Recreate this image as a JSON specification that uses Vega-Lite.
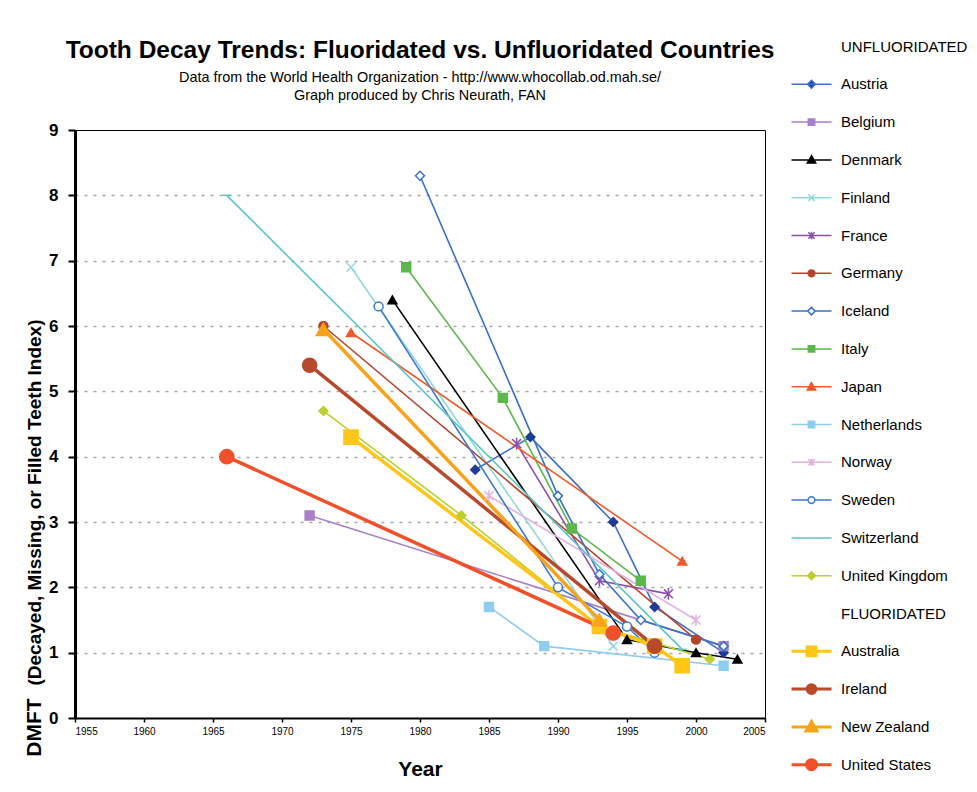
{
  "$schema": "https://vega.github.io/schema/vega-lite/v6.json",
  "width": 690,
  "height": 588,
  "autosize": "none",
  "padding": {"left": 75, "top": 130, "right": 212, "bottom": 74},
  "background": "white",
  "config": {
    "font": "Liberation Sans",
    "view": {"stroke": "black", "strokeWidth": 1}
  },
  "title": {
    "text": "Tooth Decay Trends:  Fluoridated vs. Unfluoridated Countries",
    "subtitle": ["Data from the World Health Organization - http://www.whocollab.od.mah.se/", "Graph produced by Chris Neurath, FAN"],
    "font": "Liberation Sans",
    "fontSize": 24.5,
    "fontWeight": "bold",
    "color": "black",
    "subtitleFont": "Liberation Sans",
    "subtitleFontSize": 14.4,
    "subtitleColor": "black",
    "subtitlePadding": 7,
    "subtitleLineHeight": 18,
    "anchor": "middle",
    "frame": "group",
    "offset": 0,
    "dy": 64
  },
  "data": {
    "values": [
      {"country": "Austria", "group": "Unfluoridated", "year": 1984, "dmft": 3.8},
      {"country": "Austria", "group": "Unfluoridated", "year": 1988, "dmft": 4.3},
      {"country": "Austria", "group": "Unfluoridated", "year": 1994, "dmft": 3.0},
      {"country": "Austria", "group": "Unfluoridated", "year": 1997, "dmft": 1.7},
      {"country": "Austria", "group": "Unfluoridated", "year": 2002, "dmft": 1.0},
      {"country": "Belgium", "group": "Unfluoridated", "year": 1972, "dmft": 3.1},
      {"country": "Belgium", "group": "Unfluoridated", "year": 2002, "dmft": 1.1},
      {"country": "Denmark", "group": "Unfluoridated", "year": 1978, "dmft": 6.4},
      {"country": "Denmark", "group": "Unfluoridated", "year": 1995, "dmft": 1.2},
      {"country": "Denmark", "group": "Unfluoridated", "year": 2000, "dmft": 1.0},
      {"country": "Denmark", "group": "Unfluoridated", "year": 2003, "dmft": 0.9},
      {"country": "Finland", "group": "Unfluoridated", "year": 1975, "dmft": 6.9},
      {"country": "Finland", "group": "Unfluoridated", "year": 1994, "dmft": 1.1},
      {"country": "France", "group": "Unfluoridated", "year": 1987, "dmft": 4.2},
      {"country": "France", "group": "Unfluoridated", "year": 1993, "dmft": 2.1},
      {"country": "France", "group": "Unfluoridated", "year": 1998, "dmft": 1.9},
      {"country": "Germany", "group": "Unfluoridated", "year": 1973, "dmft": 6.0},
      {"country": "Germany", "group": "Unfluoridated", "year": 2000, "dmft": 1.2},
      {"country": "Iceland", "group": "Unfluoridated", "year": 1980, "dmft": 8.3},
      {"country": "Iceland", "group": "Unfluoridated", "year": 1990, "dmft": 3.4},
      {"country": "Iceland", "group": "Unfluoridated", "year": 1993, "dmft": 2.2},
      {"country": "Iceland", "group": "Unfluoridated", "year": 1996, "dmft": 1.5},
      {"country": "Iceland", "group": "Unfluoridated", "year": 2002, "dmft": 1.1},
      {"country": "Italy", "group": "Unfluoridated", "year": 1979, "dmft": 6.9},
      {"country": "Italy", "group": "Unfluoridated", "year": 1986, "dmft": 4.9},
      {"country": "Italy", "group": "Unfluoridated", "year": 1991, "dmft": 2.9},
      {"country": "Italy", "group": "Unfluoridated", "year": 1996, "dmft": 2.1},
      {"country": "Japan", "group": "Unfluoridated", "year": 1975, "dmft": 5.9},
      {"country": "Japan", "group": "Unfluoridated", "year": 1999, "dmft": 2.4},
      {"country": "Netherlands", "group": "Unfluoridated", "year": 1985, "dmft": 1.7},
      {"country": "Netherlands", "group": "Unfluoridated", "year": 1989, "dmft": 1.1},
      {"country": "Netherlands", "group": "Unfluoridated", "year": 2002, "dmft": 0.8},
      {"country": "Norway", "group": "Unfluoridated", "year": 1985, "dmft": 3.4},
      {"country": "Norway", "group": "Unfluoridated", "year": 2000, "dmft": 1.5},
      {"country": "Sweden", "group": "Unfluoridated", "year": 1977, "dmft": 6.3},
      {"country": "Sweden", "group": "Unfluoridated", "year": 1990, "dmft": 2.0},
      {"country": "Sweden", "group": "Unfluoridated", "year": 1995, "dmft": 1.4},
      {"country": "Sweden", "group": "Unfluoridated", "year": 1997, "dmft": 1.0},
      {"country": "Switzerland", "group": "Unfluoridated", "year": 1966, "dmft": 8.0},
      {"country": "Switzerland", "group": "Unfluoridated", "year": 1999, "dmft": 1.05},
      {"country": "United Kingdom", "group": "Unfluoridated", "year": 1973, "dmft": 4.7},
      {"country": "United Kingdom", "group": "Unfluoridated", "year": 1983, "dmft": 3.1},
      {"country": "United Kingdom", "group": "Unfluoridated", "year": 1993, "dmft": 1.4},
      {"country": "United Kingdom", "group": "Unfluoridated", "year": 2001, "dmft": 0.9},
      {"country": "Australia", "group": "Fluoridated", "year": 1975, "dmft": 4.3},
      {"country": "Australia", "group": "Fluoridated", "year": 1993, "dmft": 1.4},
      {"country": "Australia", "group": "Fluoridated", "year": 1997, "dmft": 1.1},
      {"country": "Australia", "group": "Fluoridated", "year": 1999, "dmft": 0.8},
      {"country": "Ireland", "group": "Fluoridated", "year": 1972, "dmft": 5.4},
      {"country": "Ireland", "group": "Fluoridated", "year": 1997, "dmft": 1.1},
      {"country": "New Zealand", "group": "Fluoridated", "year": 1973, "dmft": 5.95},
      {"country": "New Zealand", "group": "Fluoridated", "year": 1993, "dmft": 1.5},
      {"country": "United States", "group": "Fluoridated", "year": 1966, "dmft": 4.0},
      {"country": "United States", "group": "Fluoridated", "year": 1994, "dmft": 1.3}
    ]
  },
  "encoding": {
    "x": {
      "field": "year", "type": "quantitative",
      "scale": {"domain": [1955, 2005], "nice": false, "zero": false},
      "axis": {
        "values": [1955, 1960, 1965, 1970, 1975, 1980, 1985, 1990, 1995, 2000, 2005],
        "format": "d", "title": "Year", "grid": false,
        "domainColor": "black", "domainWidth": 2,
        "tickColor": "black", "tickWidth": 1.5, "tickSize": 4,
        "labelFont": "Liberation Sans", "labelFontSize": 10, "labelColor": "black", "labelPadding": 4,
        "titleFont": "Liberation Sans", "titleFontSize": 21, "titleFontWeight": "bold", "titleColor": "black", "titlePadding": 22
      }
    }
  },
  "resolve": {"axis": {"y": "independent"}},
  "layer": [
    {
      "mark": {"type": "line"},
      "encoding": {
        "y": {
          "field": "dmft", "type": "quantitative",
          "scale": {"domain": [0, 9], "nice": false},
          "axis": {
            "orient": "left",
            "values": [0, 1, 2, 3, 4, 5, 6, 7, 8, 9],
            "title": "(Decayed, Missing, or Filled Teeth Index)",
            "grid": true,
            "gridColor": {"condition": {"test": "datum.value === 0 || datum.value === 9", "value": "transparent"}, "value": "#a8a8a8"},
            "gridDash": [3, 6], "gridWidth": 1.5,
            "domainColor": "black", "domainWidth": 3,
            "tickColor": "black", "tickWidth": 2, "tickSize": 7,
            "labelFont": "Liberation Sans", "labelFontSize": 17, "labelFontWeight": "bold", "labelColor": "black", "labelPadding": 10,
            "titleFont": "Liberation Sans", "titleFontSize": 19, "titleFontWeight": "bold", "titleColor": "black",
            "titleAngle": 270, "titleBaseline": "middle", "titleAlign": "center",
            "titleX": -41, "titleY": 372
          }
        },
        "color": {
          "field": "country", "type": "nominal",
          "scale": {
            "domain": ["UNFLUORIDATED", "Austria", "Belgium", "Denmark", "Finland", "France", "Germany", "Iceland", "Italy", "Japan", "Netherlands", "Norway", "Sweden", "Switzerland", "United Kingdom", "FLUORIDATED", "Australia", "Ireland", "New Zealand", "United States"],
            "range": ["transparent", "#3c6fc8", "#a880c8", "#000000", "#93d9dc", "#8e4fac", "#b5442d", "#3a72c6", "#5cb84a", "#f05a28", "#8fcdef", "#e4b2df", "#3a7ad0", "#5cc5c9", "#bccf2c", "transparent", "#ffc617", "#b84a2c", "#f8a31b", "#f1512a"]
          },
          "legend": {
            "orient": "none", "legendX": 729, "legendY": -91,
            "title": null, "padding": 0, "gridAlign": "all",
            "symbolSize": 1600, "rowPadding": 4.8, "labelOffset": 22,
            "labelFont": "Liberation Sans", "labelFontSize": 15, "labelColor": "black",
            "encode": {
              "symbols": {
                "update": {
                  "shape": {"signal": "'M0,-0.5M0,0.5' + ['M0,0','M-1,0H1M0,-0.2L0.2,0L0,0.2L-0.2,0Z','M-1,0H1M-0.16,-0.16H0.16V0.16H-0.16Z','M-1,0H1M0,-0.21L0.21,0.16L-0.21,0.16Z','M-1,0H1M-0.16,-0.16L0.16,0.16M0.16,-0.16L-0.16,0.16','M-1,0H1M-0.16,-0.16L0.16,0.16M0.16,-0.16L-0.16,0.16M0,-0.19V0.19','M-1,0H1M0.17,0A0.17,0.17 0 1,1 -0.17,0A0.17,0.17 0 1,1 0.17,0Z','M-1,0H-0.19M0.19,0H1M0,-0.19L0.19,0L0,0.19L-0.19,0Z','M-1,0H1M-0.16,-0.16H0.16V0.16H-0.16Z','M-1,0H1M0,-0.21L0.21,0.16L-0.21,0.16Z','M-1,0H1M-0.16,-0.16H0.16V0.16H-0.16Z','M-1,0H1M-0.16,-0.16L0.16,0.16M0.16,-0.16L-0.16,0.16M0,-0.19V0.19','M-1,0H-0.17M0.17,0H1M0.17,0A0.17,0.17 0 1,1 -0.17,0A0.17,0.17 0 1,1 0.17,0Z','M-1,0H1M-0.16,0H0.16','M-1,0H1M0,-0.2L0.2,0L0,0.2L-0.2,0Z','M0,0','M-1,0H1M-0.22,-0.22H0.22V0.22H-0.22Z','M-1,0H1M0.22,0A0.22,0.22 0 1,1 -0.22,0A0.22,0.22 0 1,1 0.22,0Z','M-1,0H1M0,-0.27L0.27,0.2L-0.27,0.2Z','M-1,0H1M0.25,0A0.25,0.25 0 1,1 -0.25,0A0.25,0.25 0 1,1 0.25,0Z'][indexof(['UNFLUORIDATED','Austria','Belgium','Denmark','Finland','France','Germany','Iceland','Italy','Japan','Netherlands','Norway','Sweden','Switzerland','United Kingdom','FLUORIDATED','Australia','Ireland','New Zealand','United States'], datum.value)]"},
                  "fill": {"signal": "scale('fill', datum.value)"},
                  "stroke": {"signal": "scale('stroke', datum.value)"},
                  "strokeWidth": {"signal": "indexof(['Australia','Ireland','New Zealand','United States'], datum.value) >= 0 ? 3 : 1.5"},
                  "opacity": {"value": 1}
                }
              }
            }
          }
        },
        "strokeWidth": {
          "field": "group", "type": "ordinal",
          "scale": {"domain": ["Unfluoridated", "Fluoridated"], "range": [1.6, 3.5]},
          "legend": null
        },
        "order": {"field": "year", "type": "quantitative"}
      }
    },
    {
      "mark": {"type": "point", "opacity": 1, "strokeWidth": 1.5, "filled": false},
      "encoding": {
        "y": {
          "field": "dmft", "type": "quantitative",
          "axis": {
            "orient": "right",
            "title": "DMFT", "labels": false, "ticks": false, "domain": false, "grid": false,
            "titleFont": "Liberation Sans", "titleFontSize": 21, "titleFontWeight": "bold", "titleColor": "black",
            "titleAngle": 270, "titleBaseline": "middle", "titleAlign": "center",
            "titleX": -731, "titleY": 597
          }
        },
        "stroke": {
          "field": "country", "type": "nominal",
          "scale": {
            "domain": ["UNFLUORIDATED", "Austria", "Belgium", "Denmark", "Finland", "France", "Germany", "Iceland", "Italy", "Japan", "Netherlands", "Norway", "Sweden", "Switzerland", "United Kingdom", "FLUORIDATED", "Australia", "Ireland", "New Zealand", "United States"],
            "range": ["transparent", "#1f3c96", "#a880c8", "#000000", "#93d9dc", "#8e4fac", "#b5442d", "#3a72c6", "#5cb84a", "#f05a28", "#8fcdef", "#e4b2df", "#3a7ad0", "#5cc5c9", "#bccf2c", "transparent", "#ffc617", "#b84a2c", "#f8a31b", "#f1512a"]
          },
          "legend": null
        },
        "fill": {
          "field": "country", "type": "nominal",
          "scale": {
            "domain": ["UNFLUORIDATED", "Austria", "Belgium", "Denmark", "Finland", "France", "Germany", "Iceland", "Italy", "Japan", "Netherlands", "Norway", "Sweden", "Switzerland", "United Kingdom", "FLUORIDATED", "Australia", "Ireland", "New Zealand", "United States"],
            "range": ["transparent", "#1f3c96", "#a880c8", "#000000", "#93d9dc", "#8e4fac", "#b5442d", "white", "#5cb84a", "#f05a28", "#8fcdef", "#e4b2df", "white", "#5cc5c9", "#bccf2c", "transparent", "#ffc617", "#b84a2c", "#f8a31b", "#f1512a"]
          },
          "legend": null
        },
        "shape": {
          "field": "country", "type": "nominal",
          "scale": {
            "domain": ["Austria", "Belgium", "Denmark", "Finland", "France", "Germany", "Iceland", "Italy", "Japan", "Netherlands", "Norway", "Sweden", "Switzerland", "United Kingdom", "Australia", "Ireland", "New Zealand", "United States"],
            "range": ["diamond", "square", "triangle-up", "M-1,-1L1,1M1,-1L-1,1", "M-1,-1L1,1M1,-1L-1,1M0,-1.3V1.3", "circle", "diamond", "square", "triangle-up", "square", "M-1,-1L1,1M1,-1L-1,1M0,-1.3V1.3", "circle", "stroke", "diamond", "square", "circle", "triangle-up", "circle"]
          },
          "legend": null
        },
        "size": {
          "field": "group", "type": "ordinal",
          "scale": {"domain": ["Unfluoridated", "Fluoridated"], "range": [80, 200]},
          "legend": null
        }
      }
    }
  ]
}
